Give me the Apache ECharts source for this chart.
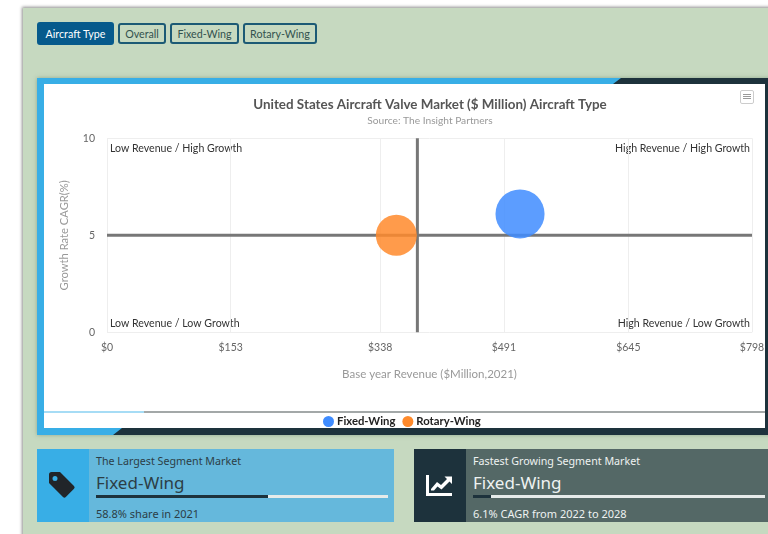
<!DOCTYPE html>
<html>
<head>
<meta charset="utf-8">
<title>United States Aircraft Valve Market</title>
<script src="https://cdn.jsdelivr.net/npm/echarts@6/dist/echarts.min.js"></script>
<style>
html, body { margin: 0; padding: 0; background: #fff; width: 768px; height: 534px; overflow: hidden; font-family: "Noto Sans", sans-serif; }
.panel { position: absolute; left: 23px; top: 8px; width: 760px; height: 540px; background: #c6d9c0; box-shadow: -1px -1px 3px rgba(0,0,0,.45); }
.btn { position: absolute; box-sizing: border-box; border: 2px solid #1c5a75; border-radius: 3px; color: #33524f; font-family: Lato, sans-serif; font-size: 10.7px; text-align: center; white-space: nowrap; }
.btn.active { background: #065a8c; border-color: #065a8c; color: #fff; }
.frame { position: absolute; left: 37px; top: 78px; width: 740px; height: 357px; background: #1d323c; box-shadow: 0 0 4px rgba(90,120,90,.5); }
.frame-blue { position: absolute; left: 0; top: 0; width: 100%; height: 100%; background: #38aee6;
  clip-path: polygon(0 0, 584px 0, 576px 6px, 7px 6px, 7px 350px, 85px 350px, 76px 357px, 0 357px); }
.chart-wrap { position: absolute; left: 44px; top: 84px; width: 721px; height: 344px; background: #fff; }
#chart { width: 721px; height: 344px; }
.rule { position: absolute; left: 0; top: 327px; width: 721px; height: 2px; background: #a3a8a8; }
.rule i { position: absolute; left: 0; top: 0; width: 100px; height: 2px; background: #a6dcf5; }
.menu { position: absolute; left: 696px; top: 6px; width: 14px; height: 14px; box-sizing: border-box; border: 1px solid #ccc; border-radius: 2px; }
.menu i { position: absolute; left: 2px; width: 8px; height: 1px; background: #999; }
.kpi { position: absolute; top: 449px; height: 73px; overflow: hidden; }
.kpi .ico { position: absolute; left: 0; top: 0; width: 52px; height: 73px; }
.kpi .ico svg { position: absolute; left: 11px; top: 22px; width: 28px; height: 28px; }
.kpi .lbl { position: absolute; left: 59px; top: 5px; font-size: 10.7px; white-space: nowrap; }
.kpi .val { position: absolute; left: 59px; top: 22px; font-size: 17px; white-space: nowrap; }
.kpi .bar { position: absolute; left: 59px; top: 46px; width: 292px; height: 3px; background: #e6ebea; }
.kpi .bar i { position: absolute; left: 0; top: 0; height: 3px; background: #1d323c; }
.kpi .foot { position: absolute; left: 59px; top: 57px; font-size: 11px; white-space: nowrap; }
</style>
</head>
<body>
<div class="panel"></div>
<div class="btn active" style="left:37px;top:22px;width:77px;height:23px;line-height:19px">Aircraft Type</div>
<div class="btn" style="left:118px;top:23px;width:48px;height:21px;line-height:17px">Overall</div>
<div class="btn" style="left:170px;top:23px;width:69px;height:21px;line-height:17px">Fixed-Wing</div>
<div class="btn" style="left:243px;top:23px;width:74px;height:21px;line-height:17px">Rotary-Wing</div>

<div class="frame"><div class="frame-blue"></div></div>
<div class="chart-wrap">
  <div id="chart"></div>
  <div class="rule"><i></i></div>
  <div class="menu"><i style="top:3px"></i><i style="top:5px"></i><i style="top:7px"></i></div>
</div>

<div class="kpi" style="left:37px;width:357px;background:#65b8dc;color:#2c3e46">
  <div class="ico" style="background:#38aee6">
    <svg viewBox="0 0 28 28"><path fill="#212529" d="M1 3.5A2.5 2.5 0 0 1 3.500 1H12l14 14a2 2 0 0 1 0 2.800L17.800 26a2 2 0 0 1-2.800 0L1 12zM7 5a2.500 2.500 0 1 0 0 5 2.500 2.500 0 0 0 0-5z"/></svg>
  </div>
  <div class="lbl">The Largest Segment Market</div>
  <div class="val">Fixed-Wing</div>
  <div class="bar"><i style="width:58.8%"></i></div>
  <div class="foot">58.8% share in 2021</div>
</div>
<div class="kpi" style="left:414px;width:360px;background:#546866;color:#eef2f1">
  <div class="ico" style="background:#1d323c">
    <svg viewBox="0 0 28 28"><path fill="#fff" d="M1 4h3v18h23v3H1z"/><path fill="#fff" d="M6 18l6-7 4 3 6-6-2.500-2.500H27V13l-2.500-2.500-8 8-4-3-3.500 4H6z"/></svg>
  </div>
  <div class="lbl">Fastest Growing Segment Market</div>
  <div class="val">Fixed-Wing</div>
  <div class="bar"><i style="width:6.1%"></i></div>
  <div class="foot">6.1% CAGR from 2022 to 2028</div>
</div>

<script>
const segmentNames = ['Fixed-Wing', 'Rotary-Wing']
const segmentColors = ['#3f8cff', '#ff8a2b']
const revenueValues = [511, 358]
const growthValues = [6.1, 5]
const xTickValues = [0, 153, 338, 491, 645, 798]
const quadrantX = 384
const quadrantY = 5
const quadrantNotes = ['Low Revenue / High Growth', 'High Revenue / High Growth', 'Low Revenue / Low Growth', 'High Revenue / Low Growth']

const fontFamily = 'Lato, sans-serif'
const chart = echarts.init(document.getElementById('chart'), null, { renderer: 'canvas' })

const quadrantLine = (data) => ({
  type: 'line',
  data,
  silent: true,
  z: 1,
  showSymbol: false,
  lineStyle: { color: '#777', width: 3 }
})

const noteStyle = (text, pos) => ({
  type: 'text',
  ...pos,
  style: { text, fill: '#333', font: '10.6px ' + fontFamily }
})

chart.setOption({
  animation: false,
  backgroundColor: 'transparent',
  textStyle: { fontFamily },
  title: [
    {
      text: 'United States Aircraft Valve Market ($ Million) Aircraft Type',
      left: 386,
      top: 14,
      padding: 0,
      textAlign: 'center',
      textStyle: { color: '#555', fontSize: 13.4, fontWeight: 'bold' }
    },
    {
      text: 'Source: The Insight Partners',
      left: 386,
      top: 32,
      padding: 0,
      textAlign: 'center',
      textStyle: { color: '#999', fontSize: 10.2, fontWeight: 'normal' }
    }
  ],
  legend: {
    data: segmentNames,
    left: 274,
    top: 327,
    icon: 'circle',
    itemWidth: 11,
    itemHeight: 11,
    itemGap: 7,
    itemStyle: { opacity: 1 },
    textStyle: { color: '#222', fontSize: 11.3, fontWeight: 'bold', padding: [0, 0, 0, -2] }
  },
  grid: { left: 63, right: 13, top: 54.3, bottom: 95.7, containLabel: false, outerBoundsMode: 'none' },
  xAxis: {
    type: 'value',
    min: 0,
    max: 798,
    name: 'Base year Revenue ($Million,2021)',
    nameLocation: 'middle',
    nameGap: 35.5,
    nameTextStyle: { color: '#999', fontSize: 11.5 },
    axisLine: { show: false },
    axisTick: { show: false, customValues: xTickValues },
    axisLabel: { color: '#666', fontSize: 10.5, margin: 9.5, customValues: xTickValues, formatter: (v) => '$' + v },
    splitLine: { show: true, lineStyle: { color: '#eee', width: 1 } }
  },
  yAxis: {
    type: 'value',
    min: 0,
    max: 10,
    interval: 5,
    name: 'Growth Rate CAGR(%)',
    nameLocation: 'middle',
    nameGap: 37,
    nameTextStyle: { color: '#999', fontSize: 11.2 },
    axisLine: { show: false },
    axisTick: { show: false },
    axisLabel: { color: '#666', fontSize: 10.5, margin: 12 },
    splitLine: { show: true, lineStyle: { color: '#eee', width: 1 } }
  },
  graphic: [
    noteStyle(quadrantNotes[0], { left: 66, top: 59 }),
    noteStyle(quadrantNotes[1], { right: 15, top: 59 }),
    noteStyle(quadrantNotes[2], { left: 66, top: 234 }),
    noteStyle(quadrantNotes[3], { right: 15, top: 234 })
  ],
  series: [
    quadrantLine([[quadrantX, 0], [quadrantX, 10]]),
    quadrantLine([[0, quadrantY], [798, quadrantY]]),
    ...segmentNames.map((name, i) => ({
      name,
      type: 'scatter',
      z: 3,
      data: [[revenueValues[i], growthValues[i]]],
      symbolSize: (d) => Math.sqrt(d[0]) * 2.17,
      itemStyle: { color: segmentColors[i], opacity: 0.85 }
    }))
  ]
})
</script>
</body>
</html>
